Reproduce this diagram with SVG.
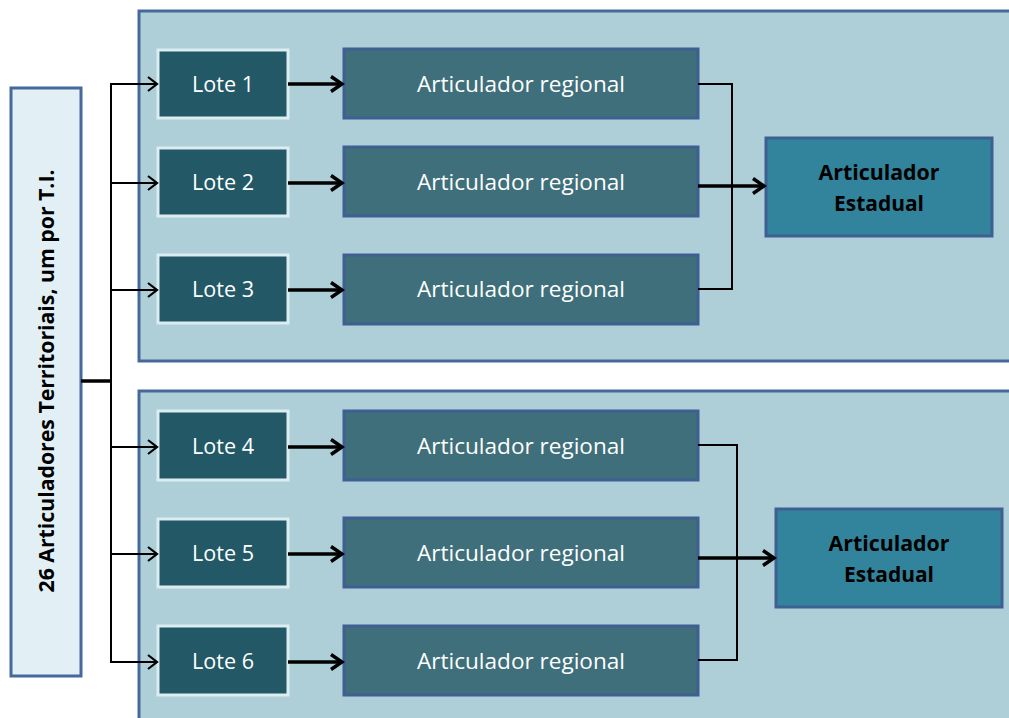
<svg xmlns="http://www.w3.org/2000/svg" width="1009" height="718" viewBox="0 0 1009 718">
<defs>
<style>
.cont{fill:#aecfd8;stroke:#46699b;stroke-width:3}
.side{fill:#e2f0f6;stroke:#46699b;stroke-width:3}
.lote{fill:#235966;stroke:#dcedf2;stroke-width:3}
.reg{fill:#3e6f7b;stroke:#3f5f92;stroke-width:3}
.est{fill:#31849b;stroke:#3f5f92;stroke-width:3}
.wt{font-family:"Open Sans","Liberation Sans",sans-serif;font-size:22px;fill:#ffffff;text-anchor:middle}
.bt{font-family:"Open Sans","Liberation Sans",sans-serif;font-size:22px;font-weight:bold;fill:#000000;text-anchor:middle}
.thin{fill:none;stroke:#000;stroke-width:2}
.thick{fill:none;stroke:#000;stroke-width:3.5}
</style>
<marker id="ah" markerUnits="userSpaceOnUse" markerWidth="14" markerHeight="16" refX="11" refY="8" orient="auto">
<path d="M2,1 L11,8 L2,15" fill="none" stroke="#000" stroke-width="2.2"/>
</marker>
<marker id="ahb" markerUnits="userSpaceOnUse" markerWidth="16" markerHeight="18" refX="13" refY="9" orient="auto">
<path d="M2,1.5 L13,9 L2,16.5" fill="none" stroke="#000" stroke-width="3.5"/>
</marker>
</defs>
<rect width="1009" height="718" fill="#ffffff"/>
<g id="container1"><rect class="cont" x="139" y="11" width="885" height="350"/></g>
<g id="container2"><rect class="cont" x="139" y="391" width="885" height="345"/></g>
<g id="side"><rect class="side" x="11" y="88" width="70" height="588"/>
<text class="bt" transform="translate(54,381) rotate(-90)" textLength="423" lengthAdjust="spacingAndGlyphs">26 Articuladores Territoriais, um por T.I.</text></g>
<g id="lote1"><rect class="lote" x="158" y="50" width="130" height="68"/><text class="wt" x="223" y="92" textLength="62" lengthAdjust="spacingAndGlyphs">Lote 1</text></g>
<g id="lote2"><rect class="lote" x="158" y="148" width="130" height="68"/><text class="wt" x="223" y="190" textLength="62" lengthAdjust="spacingAndGlyphs">Lote 2</text></g>
<g id="lote3"><rect class="lote" x="158" y="255" width="130" height="68"/><text class="wt" x="223" y="297" textLength="62" lengthAdjust="spacingAndGlyphs">Lote 3</text></g>
<g id="lote4"><rect class="lote" x="158" y="411" width="130" height="69"/><text class="wt" x="223" y="454" textLength="62" lengthAdjust="spacingAndGlyphs">Lote 4</text></g>
<g id="lote5"><rect class="lote" x="158" y="519" width="130" height="68"/><text class="wt" x="223" y="561" textLength="62" lengthAdjust="spacingAndGlyphs">Lote 5</text></g>
<g id="lote6"><rect class="lote" x="158" y="626" width="130" height="69"/><text class="wt" x="223" y="669" textLength="62" lengthAdjust="spacingAndGlyphs">Lote 6</text></g>
<g id="reg1"><rect class="reg" x="344" y="49" width="354" height="69"/><text class="wt" x="521" y="92" textLength="208" lengthAdjust="spacingAndGlyphs">Articulador regional</text></g>
<g id="reg2"><rect class="reg" x="344" y="147" width="354" height="69"/><text class="wt" x="521" y="190" textLength="208" lengthAdjust="spacingAndGlyphs">Articulador regional</text></g>
<g id="reg3"><rect class="reg" x="344" y="255" width="354" height="69"/><text class="wt" x="521" y="297" textLength="208" lengthAdjust="spacingAndGlyphs">Articulador regional</text></g>
<g id="reg4"><rect class="reg" x="344" y="411" width="354" height="69"/><text class="wt" x="521" y="454" textLength="208" lengthAdjust="spacingAndGlyphs">Articulador regional</text></g>
<g id="reg5"><rect class="reg" x="344" y="518" width="354" height="69"/><text class="wt" x="521" y="561" textLength="208" lengthAdjust="spacingAndGlyphs">Articulador regional</text></g>
<g id="reg6"><rect class="reg" x="344" y="626" width="354" height="69"/><text class="wt" x="521" y="669" textLength="208" lengthAdjust="spacingAndGlyphs">Articulador regional</text></g>
<g id="est1"><rect class="est" x="766" y="138" width="226" height="98"/><text class="bt" x="879" y="180" textLength="121" lengthAdjust="spacingAndGlyphs">Articulador</text><text class="bt" x="879" y="211" textLength="90" lengthAdjust="spacingAndGlyphs">Estadual</text></g>
<g id="est2"><rect class="est" x="776" y="509" width="226" height="98"/><text class="bt" x="889" y="551" textLength="121" lengthAdjust="spacingAndGlyphs">Articulador</text><text class="bt" x="889" y="582" textLength="90" lengthAdjust="spacingAndGlyphs">Estadual</text></g>
<g id="connectors">
<line class="thick" x1="81" y1="381" x2="111" y2="381"/>
<line class="thin" x1="111" y1="83" x2="111" y2="663"/>
<line class="thin" x1="110" y1="84" x2="157" y2="84" marker-end="url(#ah)"/>
<line class="thin" x1="110" y1="183" x2="157" y2="183" marker-end="url(#ah)"/>
<line class="thin" x1="110" y1="290" x2="157" y2="290" marker-end="url(#ah)"/>
<line class="thin" x1="110" y1="447" x2="157" y2="447" marker-end="url(#ah)"/>
<line class="thin" x1="110" y1="554" x2="157" y2="554" marker-end="url(#ah)"/>
<line class="thin" x1="110" y1="662" x2="157" y2="662" marker-end="url(#ah)"/>
<line class="thick" x1="288" y1="84" x2="342" y2="84" marker-end="url(#ahb)"/>
<line class="thick" x1="288" y1="183" x2="342" y2="183" marker-end="url(#ahb)"/>
<line class="thick" x1="288" y1="290" x2="342" y2="290" marker-end="url(#ahb)"/>
<line class="thick" x1="288" y1="447" x2="342" y2="447" marker-end="url(#ahb)"/>
<line class="thick" x1="288" y1="554" x2="342" y2="554" marker-end="url(#ahb)"/>
<line class="thick" x1="288" y1="662" x2="342" y2="662" marker-end="url(#ahb)"/>
<polyline class="thin" points="698,84 732,84 732,289 698,289"/>
<line class="thick" x1="698" y1="186" x2="764" y2="186" marker-end="url(#ahb)"/>
<polyline class="thin" points="698,445 737,445 737,660 698,660"/>
<line class="thick" x1="698" y1="558" x2="774" y2="558" marker-end="url(#ahb)"/>
</g>
</svg>
